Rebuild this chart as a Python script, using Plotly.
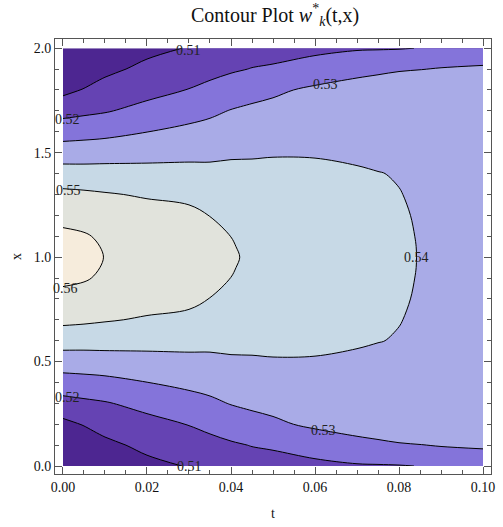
import plotly.graph_objects as go

# ---------------- data ----------------
# time grid (columns)
t_vals = [0.0, 0.005, 0.01, 0.02, 0.03, 0.035, 0.04, 0.045, 0.05,
          0.06, 0.07, 0.075, 0.08, 0.085, 0.09, 0.10]
# distance from the symmetry line x = 1 (the chart is symmetric in x about 1)
u_vals = [0.0, 0.05, 0.1, 0.2, 0.3, 0.4, 0.5, 0.6, 0.7, 0.8, 0.9, 1.0]

# estimated w values, one row per |x-1|, one entry per t column
w_u000 = [0.5626, 0.5613, 0.5599, 0.5568, 0.5536, 0.5519, 0.5505, 0.5493, 0.5481, 0.5457, 0.5433, 0.5421, 0.5410, 0.5398, 0.5386, 0.5362]
w_u005 = [0.5623, 0.5611, 0.55965, 0.5566, 0.55345, 0.55178, 0.55025, 0.5492, 0.5480, 0.54565, 0.54325, 0.54208, 0.54098, 0.53978, 0.53858, 0.53618]
w_u010 = [0.5614, 0.5606, 0.5589, 0.5560, 0.5530, 0.5514, 0.54997, 0.5489, 0.5477, 0.5455, 0.5431, 0.5420, 0.5409, 0.5397, 0.5385, 0.5361]
w_u020 = [0.5580, 0.5574, 0.5558, 0.5535, 0.5513, 0.5499, 0.5480, 0.5475, 0.5467, 0.5447, 0.5426, 0.5416, 0.5406, 0.5395, 0.5383, 0.5359]
w_u030 = [0.5522, 0.5516, 0.5507, 0.5491, 0.5487, 0.5462, 0.5457, 0.5453, 0.5449, 0.5435, 0.5418, 0.5410, 0.5402, 0.5391, 0.5379, 0.5356]
w_u040 = [0.5442, 0.5438, 0.5436, 0.5432, 0.5428, 0.5423, 0.5428, 0.5425, 0.5425, 0.5417, 0.5408, 0.5402, 0.5396, 0.5384, 0.5373, 0.5352]
w_u050 = [0.5350, 0.5354, 0.5360, 0.5368, 0.5377, 0.5381, 0.5386, 0.5389, 0.5393, 0.5394, 0.5387, 0.5382, 0.5371, 0.5368, 0.5361, 0.5346]
w_u060 = [0.5257, 0.5264, 0.5272, 0.5299, 0.5322, 0.5333, 0.5345, 0.5351, 0.5358, 0.5365, 0.5362, 0.5360, 0.5352, 0.5351, 0.5347, 0.5339]
w_u070 = [0.5167, 0.5181, 0.5193, 0.5228, 0.5264, 0.5282, 0.5304, 0.5313, 0.5335, 0.5336, 0.5340, 0.5338, 0.5333, 0.5334, 0.5333, 0.5331]
w_u080 = [0.5074, 0.5106, 0.5136, 0.5171, 0.5203, 0.5224, 0.5245, 0.5276, 0.5279, 0.5322, 0.5327, 0.5316, 0.5315, 0.5317, 0.5318, 0.5322]
w_u090 = [0.4987, 0.5031, 0.5077, 0.5123, 0.5154, 0.5172, 0.5189, 0.5203, 0.5209, 0.5222, 0.5280, 0.5294, 0.5298, 0.5299, 0.5306, 0.5314]
w_u100 = [0.4900, 0.4956, 0.5017, 0.5075, 0.5105, 0.5125, 0.5145, 0.5160, 0.5172, 0.5188, 0.5190, 0.5192, 0.5195, 0.5202, 0.5210, 0.5235]

levels = [0.51, 0.52, 0.53, 0.54, 0.55, 0.56]
band_colors = ["#4d2691", "#6543b3", "#8474da", "#a9abe7",
               "#c7d9e6", "#e1e3dc", "#f6ecdc"]

x_ticks = [0.0, 0.02, 0.04, 0.06, 0.08, 0.10]
y_ticks = [0.0, 0.5, 1.0, 1.5, 2.0]

label_texts = ["0.51", "0.51", "0.52", "0.52", "0.53", "0.53", "0.54", "0.55", "0.56"]
label_t = [0.0300, 0.0302, 0.0011, 0.0011, 0.0624, 0.0620, 0.0841, 0.0014, 0.0005]
label_x = [1.99, 0.00, 1.66, 0.33, 1.825, 0.172, 0.998, 1.32, 0.85]

# ---------------- build the grid ----------------
half = [w_u000, w_u005, w_u010, w_u020, w_u030, w_u040, w_u050,
        w_u060, w_u070, w_u080, w_u090, w_u100]
n_u = len(u_vals)
row_index = list(range(n_u - 1, 0, -1)) + list(range(n_u))   # x from 0 to 2
x_vals = [round(1 - u_vals[i], 3) for i in range(n_u - 1, 0, -1)] + \
         [round(1 + u, 3) for u in u_vals]
z = [half[i] for i in row_index]

cs = levels[1] - levels[0]
nb = len(band_colors)
colorscale = [[k / (nb - 1), c] for k, c in enumerate(band_colors)]

serif = "Liberation Serif, Times New Roman, serif"

fig = go.Figure(go.Contour(
    x=t_vals, y=x_vals, z=z,
    colorscale=colorscale,
    showscale=False,
    contours=dict(start=levels[0], end=levels[-1], size=cs,
                  coloring="fill", showlabels=False),
    line=dict(color="black", width=1, smoothing=1.0),
    hoverinfo="skip",
))

for txt, tt, xx in zip(label_texts, label_t, label_x):
    fig.add_annotation(x=tt, y=xx, text=txt, showarrow=False,
                       font=dict(family=serif, size=14, color="#222"),
                       xanchor="center", yanchor="middle")

axis_common = dict(
    showgrid=False, zeroline=False, showline=True, linecolor="#555",
    linewidth=1, mirror="ticks", ticks="inside", ticklen=7, tickwidth=1,
    tickcolor="#555", tickfont=dict(family=serif, size=14, color="#111"),
)

fig.update_layout(
    width=503, height=527,
    margin=dict(l=55, r=8, t=39, b=47),
    paper_bgcolor="white", plot_bgcolor="white",
    title=dict(text="Contour Plot <i>w</i><sup>*</sup><sub><i>k</i></sub>(t,x)",
               x=0.547, xanchor="center", y=0.972, yanchor="middle",
               font=dict(family=serif, size=20, color="#111")),
    xaxis=dict(range=[-0.0019, 0.1019], tickvals=x_ticks,
               ticktext=[f"{v:.2f}" for v in x_ticks],
               minor=dict(dtick=0.005, tick0=0, ticks="inside", ticklen=4,
                          tickcolor="#555", showgrid=False),
               title=dict(text="t", font=dict(family=serif, size=14, color="#111"),
                          standoff=14),
               **axis_common),
    yaxis=dict(range=[-0.038, 2.044], tickvals=y_ticks,
               ticktext=[f"{v:.1f}" for v in y_ticks],
               minor=dict(dtick=0.1, tick0=0, ticks="inside", ticklen=4,
                          tickcolor="#555", showgrid=False),
               title=dict(text="x", font=dict(family=serif, size=14, color="#111"),
                          standoff=8),
               **axis_common),
)

fig.write_html("out.html")
